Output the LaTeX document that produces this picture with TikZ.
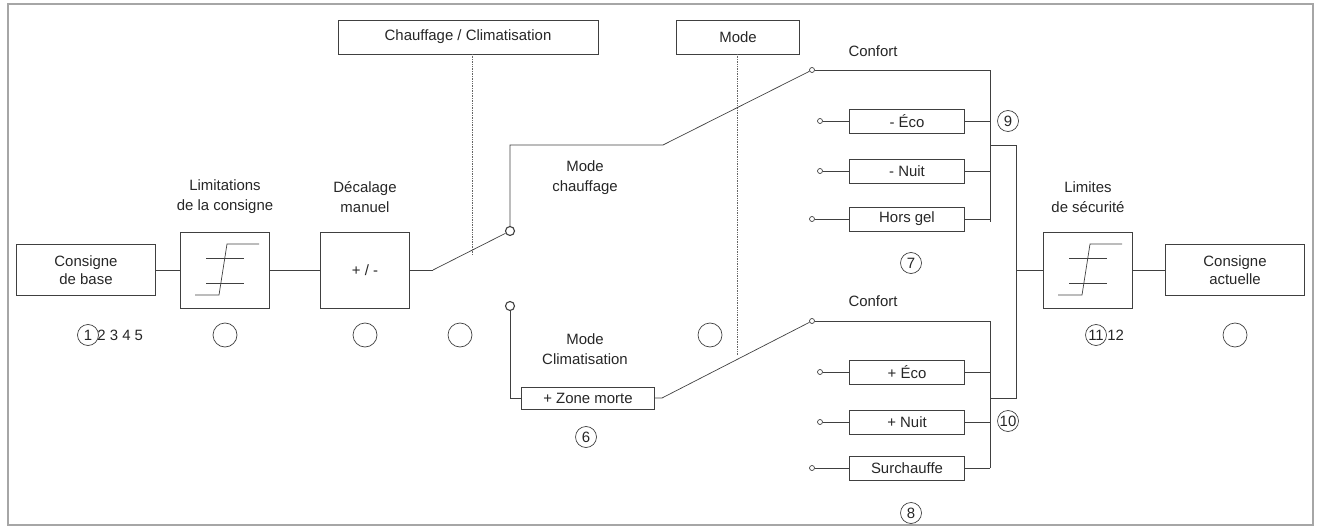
\documentclass[tikz,border=0pt]{standalone}
\usepackage{fontspec}
\setmainfont{Liberation Sans}
\begin{document}
\begin{tikzpicture}[x=1bp,y=-1bp,line width=0.7bp,draw=black!75,
  every node/.style={font=\fontsize{15}{18}\selectfont,text=black!85},
  thick box/.style={draw,line width=1.4bp,inner sep=0,minimum width=139bp,minimum height=51bp,align=center},
  sq/.style={draw,minimum width=89bp,minimum height=76bp,inner sep=0},
  sm/.style={draw,circle,inner sep=0,minimum size=5bp},
  smb/.style={draw,circle,inner sep=0,minimum size=9bp,line width=1.1bp},
  ec/.style={draw,circle,inner sep=0,minimum size=24bp},
  cn/.style={draw,circle,inner sep=0,minimum size=21bp},
  lb/.style={align=center,font=\fontsize{15}{20}\selectfont},
  pb/.style={draw,inner sep=0,minimum width=115bp,minimum height=24bp}]
\useasboundingbox (0,0) rectangle (1321,529);
\draw[black!35,line width=1.2bp] (8,4) rectangle (1313,525);
% left chain
\node[thick box] (cb) at (86,270) {Consigne\\de base};
\node[sq] (lim) at (225,270) {};
\node[sq] (dec) at (365,270) {+ / -};
\node[lb] (llim) at (225,197) {Limitations\\de la consigne};
\node[lb] (ldec) at (365,197) {Décalage\\manuel};
\draw (lim.center) ++(-19,-12) -- ++(38,0) (lim.center) ++(-19,13) -- ++(38,0);
\draw (lim.center) ++(-30,25) -- ++(24,0) -- ++(8,-51) -- ++(32,0);
\draw (cb) -- (lim) (lim) -- (dec);
\coordinate (k) at (433,270);
\draw (dec) -- (k);
\node[smb] (sw1) at (510,231) {};
\node[smb] (sw2) at (510,306) {};
\draw (k) -- (sw1);
\node[cn] (c1) at (88,335) {1};
\node[anchor=west,inner sep=0] (n25) at (97,335) {2 3 4 5};
\node[ec] (e1) at (225,335) {};
\node[ec] (e2) at (365,335) {};
\node[ec] (e3) at (460,335) {};
\node[ec] (e4) at (710,335) {};
\node[ec] (e5) at (1235,335) {};
% top boxes
\node[draw,minimum width=260bp,minimum height=34bp] (cc) at (468,37) {Chauffage / Climatisation};
\node[draw,minimum width=123bp,minimum height=34bp] (md) at (738,37) {Mode};
\coordinate (d1) at (472,255);
\coordinate (d2) at (737,355);
\draw[densely dotted,black!60] (472,54) -- (d1);
\draw[densely dotted,black!60] (737,54) -- (d2);
% switch branches
\node[sm] (t1) at (812,70) {};
\node[sm] (t2) at (812,321) {};
\draw (sw1) -- (510,145) -- (663,145) -- (t1);
\node[pb,minimum width=133bp,minimum height=22bp] (zm) at (588,398) {+ Zone morte};
\draw (sw2) -- (510,398) -- (zm.west);
\draw (zm.east) -- (662,398) -- (t2);
\node[lb] (mch) at (585,178) {Mode\\chauffage};
\node[lb] (mcl) at (585,349) {Mode\\Climatisation};
\node[cn] (c6) at (586,437) {6};
% upper group
\node (cf1) at (873,51) {Confort};
\draw (t1) -- (990,70) -- (990,222);
\foreach \n/\t/\y/\sx in {eco/- Éco/121/820, nuit/- Nuit/171/820, hg/Hors gel/219/812}{
  \node[pb] (\n) at (907,\y) {\t};
  \node[sm] (s\n) at (\sx,\y) {};
  \draw (s\n) -- (\n) (\n) -- (990,\y);
}
\node[cn] (c9) at (1008,121) {9};
\node[cn] (c7) at (911,263) {7};
% lower group
\node (cf2) at (873,301) {Confort};
\draw (t2) -- (990,321) -- (990,468);
\foreach \n/\t/\y/\sx in {peco/+ Éco/372/820, pnuit/+ Nuit/422/820, sur/Surchauffe/468/812}{
  \node[pb] (\n) at (907,\y) {\t};
  \node[sm] (s\n) at (\sx,\y) {};
  \draw (s\n) -- (\n) (\n) -- (990,\y);
}
\node[cn] (c10) at (1008,421) {10};
\node[cn] (c8) at (911,513) {8};
% merge
\draw (990,145) -- (1016,145) -- (1016,398) -- (990,398);
\node[sq] (ls) at (1088,270) {};
\node[lb] (lls) at (1088,197) {Limites\\de sécurité};
\draw (ls.center) ++(-19,-12) -- ++(38,0) (ls.center) ++(-19,13) -- ++(38,0);
\draw (ls.center) ++(-30,25) -- ++(24,0) -- ++(8,-51) -- ++(32,0);
\draw (1016,270) -- (ls);
\node[thick box] (ca) at (1235,270) {Consigne\\actuelle};
\draw (ls) -- (ca);
\node[cn] (c11) at (1096,335) {11};
\node[anchor=west,inner sep=0] (n12) at (1107,335) {12};
\end{tikzpicture}
\end{document}
